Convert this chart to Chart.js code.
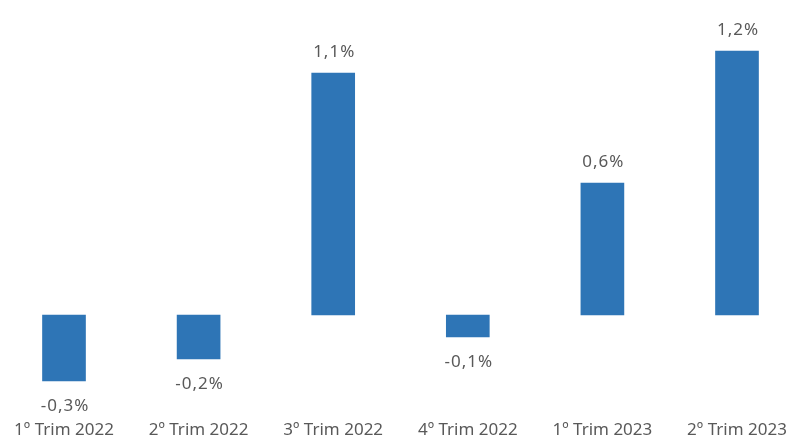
<!DOCTYPE html>
<html>
<head>
<meta charset="utf-8">
<script src="https://cdn.jsdelivr.net/npm/chart.js@4/dist/chart.umd.min.js"></script>
<style>
  html, body { margin: 0; padding: 0; background: #fff; }
  .chart-box { width: 790px; height: 437px; position: relative; }
</style>
</head>
<body>
<div class="chart-box"><canvas id="barchart-trim"></canvas></div>
<script>
// quarterly change, in %
const trimestres = ['1º Trim 2022', '2º Trim 2022', '3º Trim 2022', '4º Trim 2022', '1º Trim 2023', '2º Trim 2023']
const variacao = [-0.3, -0.2, 1.1, -0.1, 0.6, 1.2]

const textColor = '#595959'
const fontFamily = '"Noto Sans", "Open Sans", sans-serif'

// writes the value above (or below, for negatives) each bar
const valueLabels = {
  id: 'valueLabels',
  afterDatasetsDraw(chart) {
    const ctx = chart.ctx
    ctx.save()
    ctx.font = '17px ' + fontFamily
    ctx.letterSpacing = '1px'
    ctx.fillStyle = textColor
    ctx.textAlign = 'center'
    ctx.textBaseline = 'middle'
    chart.getDatasetMeta(0).data.forEach((bar, i) => {
      const v = variacao[i]
      const txt = v.toFixed(1).replace('.', ',') + '%'
      const y = v >= 0 ? bar.y - 21 : bar.y + 25
      ctx.fillText(txt, bar.x + 1, y)
    })
    ctx.restore()
  }
}

const ctx = document.getElementById('barchart-trim')

new Chart(ctx, {
  type: 'bar',
  data: {
    labels: trimestres,
    datasets: [{
      data: variacao,
      backgroundColor: '#2E75B6',
      barThickness: 43,
      clip: false
    }]
  },
  options: {
    responsive: true,
    maintainAspectRatio: false,
    animation: false,
    layout: {
      padding: { left: 64, right: 53, top: 7, bottom: 0 }
    },
    plugins: {
      legend: { display: false },
      tooltip: { enabled: false }
    },
    scales: {
      x: {
        offset: false,
        grid: { display: false, drawTicks: false },
        border: { display: false },
        ticks: {
          color: textColor,
          font: { family: fontFamily, size: 17, lineHeight: 1 },
          padding: 19,
          maxRotation: 0,
          autoSkip: false
        },
        // fixed axis band under the plot, labels may overhang the sides
        afterFit(scale) {
          scale.height = 34
          scale.paddingLeft = 0
          scale.paddingRight = 0
          scale.paddingTop = 0
          scale.paddingBottom = 0
        }
      },
      y: {
        display: false,
        min: -0.4,
        max: 1.4
      }
    }
  },
  plugins: [valueLabels]
})
</script>
</body>
</html>
